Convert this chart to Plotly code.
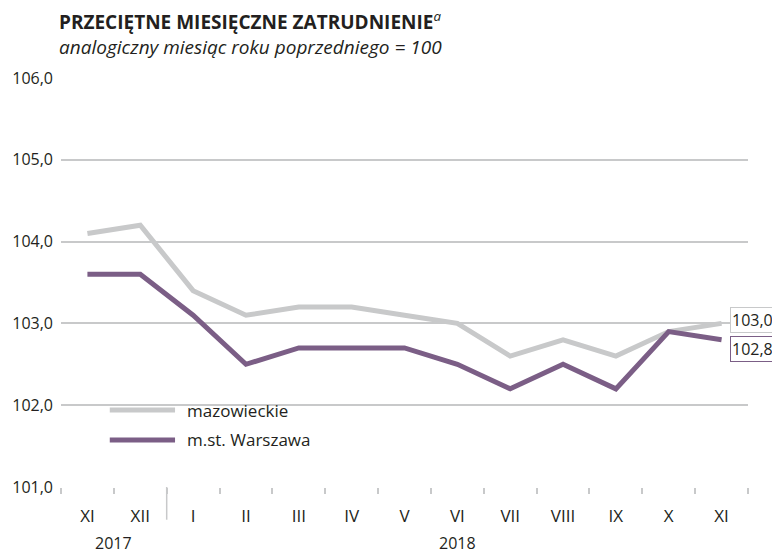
import plotly.graph_objects as go

months = ["XI", "XII", "I", "II", "III", "IV", "V", "VI", "VII", "VIII", "IX", "X", "XI"]
mazowieckie = [104.1, 104.2, 103.4, 103.1, 103.2, 103.2, 103.1, 103.0, 102.6, 102.8, 102.6, 102.9, 103.0]
warszawa = [103.6, 103.6, 103.1, 102.5, 102.7, 102.7, 102.7, 102.5, 102.2, 102.5, 102.2, 102.9, 102.8]
y_ticks = [101.0, 102.0, 103.0, 104.0, 105.0, 106.0]
years = [("2017", 0.5), ("2018", 7)]
series_names = ["mazowieckie", "m.st. Warszawa"]

GREY = "#c8c9ca"
PURPLE = "#7b5e86"
TEXT = "#231f20"
FONT = "Open Sans"

xs = list(range(len(months)))

fig = go.Figure()
fig.add_trace(go.Scatter(x=xs, y=mazowieckie, mode="lines", name=series_names[0],
                         line=dict(color=GREY, width=5), showlegend=False))
fig.add_trace(go.Scatter(x=xs, y=warszawa, mode="lines", name=series_names[1],
                         line=dict(color=PURPLE, width=5), showlegend=False))

fig.update_layout(
    width=772, height=554,
    margin=dict(l=58, r=24, t=78, b=67),
    paper_bgcolor="white", plot_bgcolor="white",
    font=dict(family=FONT, color=TEXT, size=16),
    xaxis=dict(
        range=[-0.5, len(months) - 0.5],
        tickvals=xs, ticktext=months, ticks="",
        showgrid=False, zeroline=False, showline=False,
        tickfont=dict(size=17, family=FONT, color=TEXT),
        ticklabelstandoff=17,
        minor=dict(tick0=-0.5, dtick=1, ticks="outside", ticklen=6,
                   tickcolor=GREY, tickwidth=1.5, showgrid=False),
    ),
    yaxis=dict(
        range=[y_ticks[0], y_ticks[-1]],
        tickvals=y_ticks, ticktext=[f"{v:.1f}".replace(".", ",") for v in y_ticks],
        showgrid=True, gridcolor=GREY, gridwidth=1.5,
        zeroline=False, showline=False, ticks="",
        tickfont=dict(size=16, family=FONT, color=TEXT),
        ticklabelstandoff=7,
    ),
)

# year divider
fig.add_shape(type="line", xref="x", yref="paper", x0=1.5, x1=1.5, y0=0, y1=-0.08,
              line=dict(color=GREY, width=1.5))

for label, xpos in years:
    fig.add_annotation(x=xpos, y=-0.138, xref="x", yref="paper", text=label,
                       showarrow=False, font=dict(size=16, family=FONT, color=TEXT),
                       xanchor="center", yanchor="middle")

# title
fig.add_annotation(x=0, y=1.139, xref="paper", yref="paper", xshift=-4,
                   text="<b>PRZECIĘTNE MIESIĘCZNE ZATRUDNIENIE</b><sup><i>a</i></sup>",
                   showarrow=False, xanchor="left", yanchor="middle",
                   font=dict(size=19, family=FONT, color=TEXT))
fig.add_annotation(x=0, y=1.076, xref="paper", yref="paper", xshift=-4,
                   text="<i>analogiczny miesiąc roku poprzedniego = 100</i>",
                   showarrow=False, xanchor="left", yanchor="middle",
                   font=dict(size=19, family=FONT, color=TEXT))

# end labels
fig.add_annotation(x=xs[-1], y=mazowieckie[-1], xref="x", yref="y",
                   text=f"{mazowieckie[-1]:.1f}".replace(".", ","), showarrow=False,
                   xanchor="left", yanchor="middle", xshift=8, yshift=3,
                   bordercolor=GREY, borderwidth=1, borderpad=1, bgcolor="white",
                   font=dict(size=16, family=FONT, color=TEXT))
fig.add_annotation(x=xs[-1], y=warszawa[-1], xref="x", yref="y",
                   text=f"{warszawa[-1]:.1f}".replace(".", ","), showarrow=False,
                   xanchor="left", yanchor="middle", xshift=8, yshift=-9,
                   bordercolor=PURPLE, borderwidth=1, borderpad=1, bgcolor="white",
                   font=dict(size=16, family=FONT, color=TEXT))

# legend (manual)
fig.add_shape(type="rect", xref="paper", yref="paper", x0=0.053, x1=0.355, y0=0.09, y1=0.22,
              fillcolor="white", line=dict(width=0), layer="between")
for i, (name, col) in enumerate(zip(series_names, [GREY, PURPLE])):
    yy = 0.188 - i * 0.073
    fig.add_shape(type="line", xref="paper", yref="paper", x0=0.071, x1=0.166, y0=yy, y1=yy,
                  line=dict(color=col, width=5), layer="above")
    fig.add_annotation(x=0.18, y=yy, xref="paper", yref="paper", text=name,
                       showarrow=False, xanchor="left", yanchor="middle",
                       font=dict(size=17, family=FONT, color=TEXT))

fig.write_html("out.html", config={"displayModeBar": False},
               post_script="document.body.style.margin='0px';")
